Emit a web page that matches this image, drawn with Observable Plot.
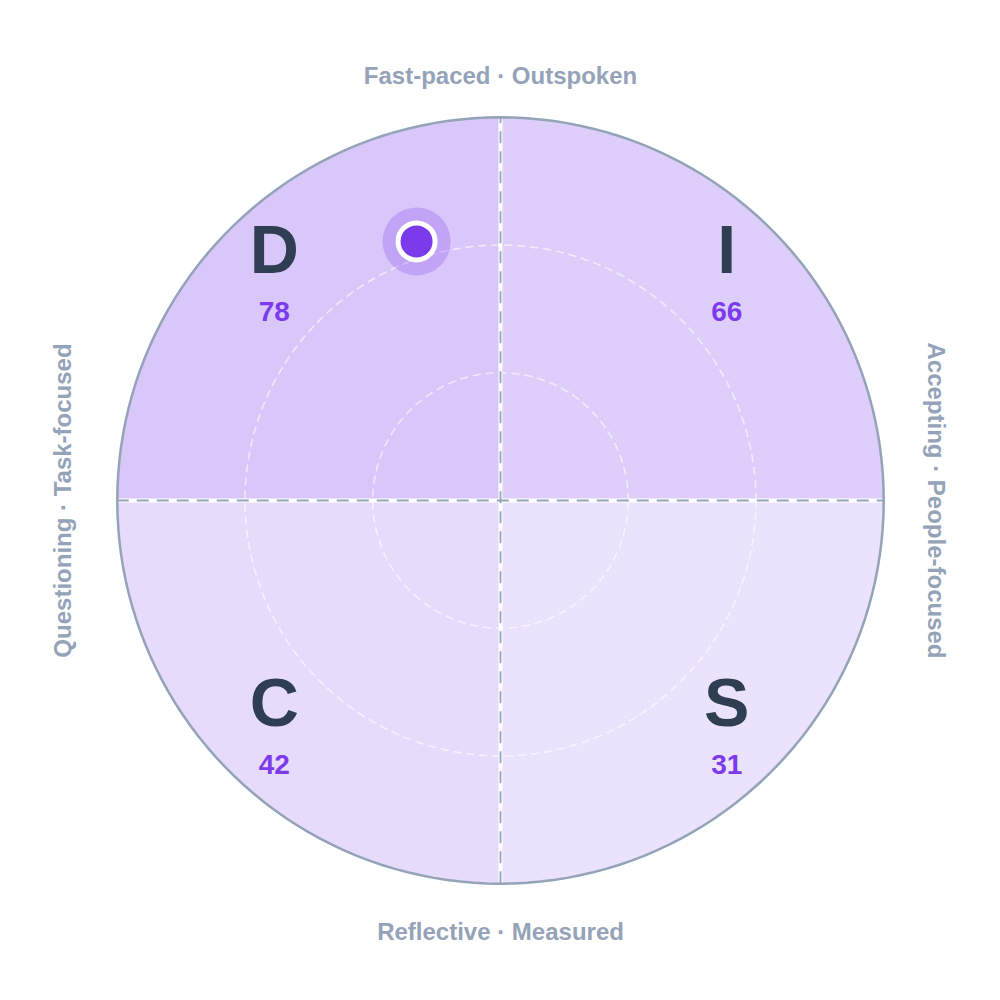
<!DOCTYPE html>
<html>
<head>
<meta charset="utf-8">
<script src="https://cdn.jsdelivr.net/npm/d3@7"></script>
<script src="https://cdn.jsdelivr.net/npm/@observablehq/plot@0.6"></script>
<style>
  html, body { margin: 0; padding: 0; background: #ffffff; }
  #chart { width: 1000px; height: 1000px; }
</style>
</head>
<body>
<div id="chart"></div>
<script>
// ---- data ----
const letters = ["D", "I", "C", "S"];
const scores = [78, 66, 42, 31];
const quadSignX = [-1, 1, -1, 1];
const quadSignY = [1, 1, -1, -1];
const textured = [false, true, false, true];
const axisLabels = ["Fast-paced · Outspoken", "Accepting · People-focused", "Reflective · Measured", "Questioning · Task-focused"];
const axisSignX = [0, 1, 0, -1];
const axisSignY = [1, 0, -1, 0];
const axisRotate = [0, 90, 0, -90];

// ---- geometry (data units) ----
const R = 105;           // outer circle
const rings = [35, 70];  // dashed guide rings
const groupPos = 62;     // letter group position
const labelDist = [116.2, 119.3, 118.4, 119.7];

const score = Object.fromEntries(letters.map((l, i) => [l, scores[i]]));
const point = {
  x: (score.I + score.S) - (score.D + score.C),
  y: (score.D + score.I) - (score.C + score.S)
};

const N = 180;
function circlePts(r) {
  return d3.range(N + 1).map(i => {
    const a = (i / N) * 2 * Math.PI;
    return {x: r * Math.cos(a), y: r * Math.sin(a)};
  });
}
function quadArea(sx, sy) {
  return d3.range(N + 1).map(i => {
    const x = sx * R * i / N;
    return {x, y1: 0, y2: sy * Math.sqrt(Math.max(0, R * R - x * x))};
  });
}

const quads = letters.map((l, i) => ({
  letter: l, score: scores[i], sx: quadSignX[i], sy: quadSignY[i], textured: textured[i],
  gx: quadSignX[i] * groupPos, gy: quadSignY[i] * groupPos
}));
const labels = axisLabels.map((t, i) => ({
  text: t, x: axisSignX[i] * labelDist[i], y: axisSignY[i] * labelDist[i], rotate: axisRotate[i]
}));

const violet = "#7c3aed";
const slate = "#94a3b8";
const ink = "#2f3e52";

const marks = [];
quads.forEach(q => {
  marks.push(Plot.areaY(quadArea(q.sx, q.sy), {
    x: "x", y1: "y1", y2: "y2",
    fill: violet, fillOpacity: 0.06 + q.score / 100 * 0.29, curve: "linear"
  }));
  if (q.textured) {
    marks.push(Plot.areaY(quadArea(q.sx, q.sy), {
      x: "x", y1: "y1", y2: "y2", fill: "url(#dotTexture)", curve: "linear"
    }));
  }
});
rings.forEach(r => {
  marks.push(Plot.line(circlePts(r), {x: "x", y: "y", stroke: "#ffffff", strokeOpacity: 0.6, strokeWidth: 1.6, strokeDasharray: "7,6"}));
});
// axis separators
marks.push(Plot.ruleX([0], {y1: -R, y2: R, stroke: "#ffffff", strokeWidth: 4}));
marks.push(Plot.ruleY([0], {x1: -R, x2: R, stroke: "#ffffff", strokeWidth: 4}));
marks.push(Plot.ruleX([0], {y1: -R, y2: R, stroke: slate, strokeWidth: 1.8, strokeDasharray: "12,8"}));
marks.push(Plot.ruleY([0], {x1: -R, x2: R, stroke: slate, strokeWidth: 1.8, strokeDasharray: "12,8"}));
// outer circle
marks.push(Plot.line(circlePts(R), {x: "x", y: "y", stroke: slate, strokeWidth: 2.5}));
// letters and scores
marks.push(Plot.text(quads, {x: "gx", y: "gy", text: "letter", dy: -23, fontSize: 68, fontWeight: "bold", fill: ink, lineAnchor: "middle"}));
marks.push(Plot.text(quads, {x: "gx", y: "gy", text: d => String(d.score), dy: 38, fontSize: 28, fontWeight: "bold", fill: violet, lineAnchor: "middle"}));
// axis labels
labels.forEach(l => {
  marks.push(Plot.text([l], {x: "x", y: "y", text: "text", rotate: l.rotate, fontSize: 24, fontWeight: "bold", fill: slate, lineAnchor: "middle"}));
});
// position dot
marks.push(Plot.dot([point], {x: "x", y: "y", r: 34, fill: violet, fillOpacity: 0.25, stroke: "none"}));
marks.push(Plot.dot([point], {x: "x", y: "y", r: 18.5, fill: violet, stroke: "#ffffff", strokeWidth: 5}));

const chart = Plot.plot({
  width: 1000,
  height: 1000,
  margin: 0,
  x: {domain: [-137, 137], axis: null},
  y: {domain: [-137, 137], axis: null},
  style: {fontFamily: "'Liberation Sans', Arial, Helvetica, sans-serif", background: "#ffffff", overflow: "visible"},
  marks
});

// subtle dot texture pattern
const svg = d3.select(chart);
const defs = svg.insert("defs", ":first-child");
const pat = defs.append("pattern").attr("id", "dotTexture").attr("patternUnits", "userSpaceOnUse")
  .attr("width", 8).attr("height", 8);
pat.append("circle").attr("cx", 2).attr("cy", 2).attr("r", 0.8).attr("fill", violet).attr("fill-opacity", 0.06);
pat.append("circle").attr("cx", 6).attr("cy", 6).attr("r", 0.8).attr("fill", violet).attr("fill-opacity", 0.06);

document.getElementById("chart").appendChild(chart);
</script>
</body>
</html>
